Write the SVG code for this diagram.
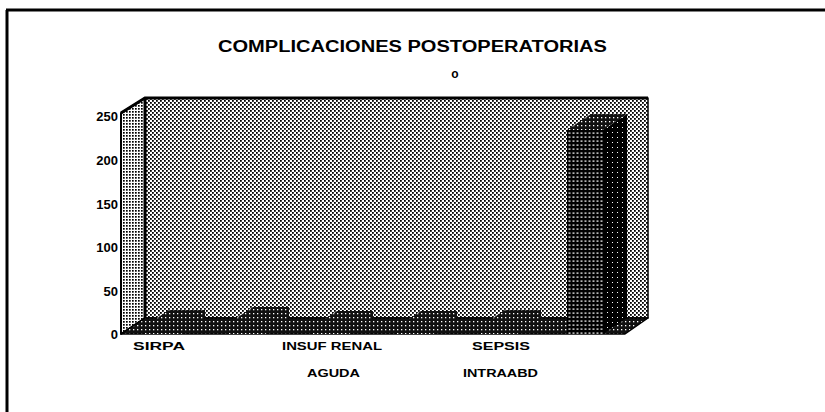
<svg xmlns="http://www.w3.org/2000/svg" width="825" height="412" viewBox="0 0 825 412">
<style>
text{font-family:"Liberation Sans",Arial,sans-serif;font-weight:bold;fill:#000}
.ax{font-size:13px;text-anchor:end}
.cat{font-size:11.5px}
.edge{stroke:#000;stroke-linejoin:round}
</style>
<defs>
<pattern id="pLight" width="4" height="4" patternUnits="userSpaceOnUse">
<rect width="4" height="4" fill="#fff"/>
<rect x="0" y="0" width="1.8" height="1.8" fill="#000"/>
<rect x="2" y="2" width="1.8" height="1.8" fill="#000"/>
</pattern>
<pattern id="pMed" width="3" height="3" patternUnits="userSpaceOnUse">
<rect width="3" height="3" fill="#fff"/>
<rect x="0" y="0" width="1.7" height="1.7" fill="#000"/>
</pattern>
<pattern id="pDark" width="4" height="4" patternUnits="userSpaceOnUse">
<rect width="4" height="4" fill="#111"/>
<rect x="1" y="1" width="1.3" height="1.3" fill="#fff"/>
</pattern>
<pattern id="pFront" width="4" height="4" patternUnits="userSpaceOnUse">
<rect width="4" height="4" fill="#000"/>
<rect x="0.5" y="0.5" width="2" height="1.2" fill="#fff"/>
</pattern>
<pattern id="pSide" width="5" height="5" patternUnits="userSpaceOnUse">
<rect width="5" height="5" fill="#000"/>
<rect x="2" y="2" width="1" height="1" fill="#fff"/>
</pattern>
</defs>
<rect width="825" height="412" fill="#fff"/>
<g id="frame" fill="none" stroke="#000" stroke-width="3">
<path d="M6,10 H825"/>
<path d="M7,10 V412"/>
</g>
<g id="title">
<text x="218" y="52" font-size="16" textLength="389" lengthAdjust="spacingAndGlyphs">COMPLICACIONES POSTOPERATORIAS</text>
<text x="455" y="78" font-size="12" text-anchor="middle">o</text>
</g>
<g id="walls">
<polygon class="edge" points="121,113 145,98 145,318 121,334" fill="url(#pMed)" stroke-width="2"/>
<rect class="edge" x="145" y="98" width="503" height="220" fill="url(#pLight)" stroke-width="1.5"/>
<path d="M121,113 L145,98 H648" fill="none" stroke="#000" stroke-width="3"/>
<path d="M145,98 V318" fill="none" stroke="#000" stroke-width="3"/>
<polygon class="edge" points="121,334 145,318 648,318 625,334" fill="url(#pDark)" stroke-width="1.5"/>
</g>
<g id="y-axis">
<text class="ax" x="118" y="121">250</text>
<text class="ax" x="118" y="165">200</text>
<text class="ax" x="118" y="209">150</text>
<text class="ax" x="118" y="252">100</text>
<text class="ax" x="118" y="296">50</text>
<text class="ax" x="118" y="339">0</text>
</g>
<g id="bars">
<g id="bar-sirpa">
<polygon points="145,334 145,326 169,310 205,310 205,318 181,334" fill="url(#pDark)"/>
</g>
<g id="bar-2">
<polygon points="229,334 229,323 253,307 289,307 289,318 265,334" fill="url(#pDark)"/>
</g>
<g id="bar-insuf">
<polygon points="313,334 313,327 337,311 373,311 373,318 349,334" fill="url(#pDark)"/>
</g>
<g id="bar-4">
<polygon points="397,334 397,327 421,311 457,311 457,318 433,334" fill="url(#pDark)"/>
</g>
<g id="bar-sepsis">
<polygon points="481,334 481,326 505,310 541,310 541,318 517,334" fill="url(#pDark)"/>
</g>
<g id="bar-6">
<polygon points="603,130 627,114 627,318 603,334" fill="url(#pSide)"/>
<rect x="567" y="130" width="36" height="204" fill="url(#pFront)"/>
<polygon points="567,130 591,114 627,114 603,130" fill="url(#pDark)"/>
</g>
</g>
<g id="x-axis">
<text class="cat" x="133" y="350" textLength="52" lengthAdjust="spacingAndGlyphs">SIRPA</text>
<text class="cat" x="282" y="350" textLength="100" lengthAdjust="spacingAndGlyphs">INSUF RENAL</text>
<text class="cat" x="307" y="377" textLength="53" lengthAdjust="spacingAndGlyphs">AGUDA</text>
<text class="cat" x="472" y="350" textLength="58" lengthAdjust="spacingAndGlyphs">SEPSIS</text>
<text class="cat" x="463" y="377" textLength="75" lengthAdjust="spacingAndGlyphs">INTRAABD</text>
</g>
</svg>
